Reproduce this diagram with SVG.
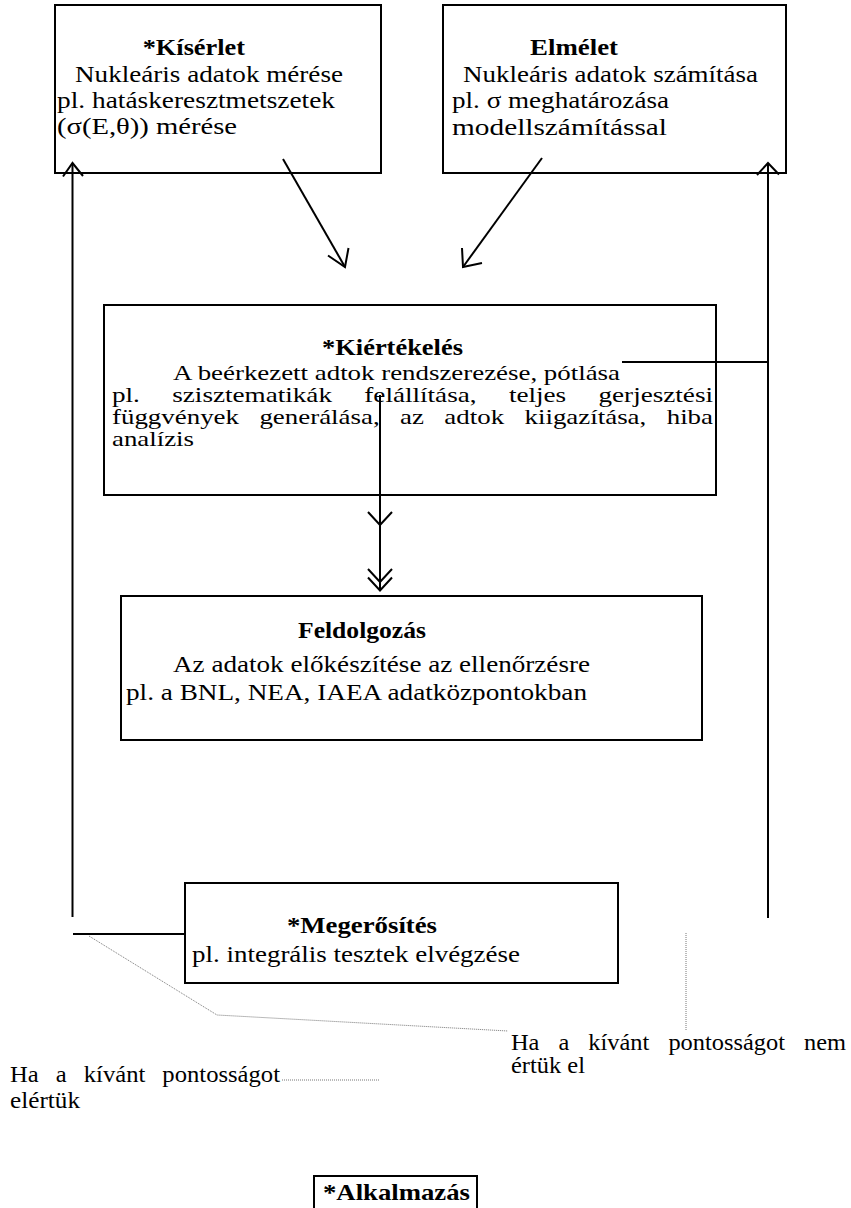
<svg xmlns="http://www.w3.org/2000/svg" width="851" height="1208" viewBox="0 0 851 1208">
<style>
.box{fill:#fff;stroke:#000;stroke-width:2}
.t{font-family:"Liberation Serif","Times New Roman",serif;font-size:23px;fill:#000}
.s{font-size:21px}
.b{font-weight:bold}
.ln{fill:none;stroke:#000;stroke-width:2}
.ah{fill:none;stroke:#000;stroke-width:2;stroke-linejoin:miter}
.dot{fill:none;stroke:#777;stroke-width:1;stroke-dasharray:1 1}
</style>
<rect width="851" height="1208" fill="#fff"/>
<g id="kiserlet">
<rect class="box" x="55" y="5" width="326" height="168"/>
<text class="t b" x="142.7" y="55" textLength="102.3" lengthAdjust="spacingAndGlyphs">*Kísérlet</text>
<text class="t" x="75" y="82" textLength="268" lengthAdjust="spacingAndGlyphs">Nukleáris adatok mérése</text>
<text class="t" x="57" y="108" textLength="278" lengthAdjust="spacingAndGlyphs">pl. hatáskeresztmetszetek</text>
<text class="t" x="57" y="134" textLength="180" lengthAdjust="spacingAndGlyphs">(σ(E,θ)) mérése</text>
</g>
<g id="elmelet">
<rect class="box" x="443" y="5" width="343" height="168"/>
<text class="t b" x="530" y="55" textLength="88" lengthAdjust="spacingAndGlyphs">Elmélet</text>
<text class="t" x="463" y="82" textLength="295" lengthAdjust="spacingAndGlyphs">Nukleáris adatok számítása</text>
<text class="t" x="452" y="108" textLength="217" lengthAdjust="spacingAndGlyphs">pl. σ meghatározása</text>
<text class="t" x="452" y="135" textLength="215" lengthAdjust="spacingAndGlyphs">modellszámítással</text>
</g>
<g id="kiertekeles">
<rect class="box" x="104" y="305" width="612" height="190"/>
<text class="t b" x="322" y="355" textLength="141" lengthAdjust="spacingAndGlyphs">*Kiértékelés</text>
<text class="t s" x="173" y="380" textLength="447" lengthAdjust="spacingAndGlyphs">A beérkezett adtok rendszerezése, pótlása</text>
<text class="t s" x="112" y="402" textLength="601" lengthAdjust="spacingAndGlyphs" word-spacing="19.8">pl. szisztematikák felállítása, teljes gerjesztési</text>
<text class="t s" x="112" y="424" textLength="601" lengthAdjust="spacingAndGlyphs" word-spacing="10.7">függvények generálása, az adtok kiigazítása, hiba</text>
<text class="t s" x="112" y="446" textLength="82" lengthAdjust="spacingAndGlyphs">analízis</text>
</g>
<g id="feldolgozas">
<rect class="box" x="121" y="596" width="581" height="144"/>
<text class="t b" x="298" y="638" textLength="128" lengthAdjust="spacingAndGlyphs">Feldolgozás</text>
<text class="t" x="173" y="672" textLength="417" lengthAdjust="spacingAndGlyphs">Az adatok előkészítése az ellenőrzésre</text>
<text class="t" x="126" y="700" textLength="461" lengthAdjust="spacingAndGlyphs">pl. a BNL, NEA, IAEA adatközpontokban</text>
</g>
<g id="megerosites">
<rect class="box" x="185" y="883" width="433" height="100"/>
<text class="t b" x="287" y="933" textLength="150" lengthAdjust="spacingAndGlyphs">*Megerősítés</text>
<text class="t" x="192" y="962" textLength="328" lengthAdjust="spacingAndGlyphs">pl. integrális tesztek elvégzése</text>
</g>
<g id="label-elertuk">
<text class="t" x="10" y="1082" textLength="270" lengthAdjust="spacingAndGlyphs" word-spacing="10.2">Ha a kívánt pontosságot</text>
<text class="t" x="10" y="1108" textLength="70" lengthAdjust="spacingAndGlyphs">elértük</text>
</g>
<g id="label-nem-ertuk-el">
<text class="t" x="511" y="1050" textLength="335" lengthAdjust="spacingAndGlyphs" word-spacing="12.2">Ha a kívánt pontosságot nem</text>
<text class="t" x="511" y="1073" textLength="74" lengthAdjust="spacingAndGlyphs">értük el</text>
</g>
<g id="alkalmazas">
<rect class="box" x="314" y="1176" width="163" height="40"/>
<text class="t b" x="323" y="1200" textLength="147" lengthAdjust="spacingAndGlyphs">*Alkalmazás</text>
</g>
<g id="connectors">
<line class="ln" x1="72.5" y1="163" x2="72.5" y2="917"/>
<polyline class="ah" points="63,176.5 72.5,163 83,176"/>
<line class="ln" x1="768" y1="163" x2="768" y2="918"/>
<polyline class="ah" points="757,175 768,163 779,174.5"/>
<line class="ln" x1="622" y1="362" x2="768" y2="362"/>
<line class="ln" x1="283" y1="159" x2="345" y2="267"/>
<polyline class="ah" points="328,255.5 345,267 348.5,248"/>
<line class="ln" x1="542" y1="158" x2="463" y2="267"/>
<polyline class="ah" points="462,248 463,267 482,263"/>
<line class="ln" x1="380" y1="395" x2="380" y2="591"/>
<polyline class="ah" points="368,512 380,525 392,512"/>
<polyline class="ah" points="368,569 380,582 392,569"/>
<polyline class="ah" points="368,577.5 380,590.5 392,577.5"/>
<line class="ln" x1="73" y1="934" x2="185" y2="934"/>
<polyline class="dot" points="89,936 217,1015 508,1031"/>
<line class="dot" x1="282" y1="1080" x2="379" y2="1080"/>
<line class="dot" x1="686" y1="933" x2="686" y2="1030"/>
</g>
</svg>
